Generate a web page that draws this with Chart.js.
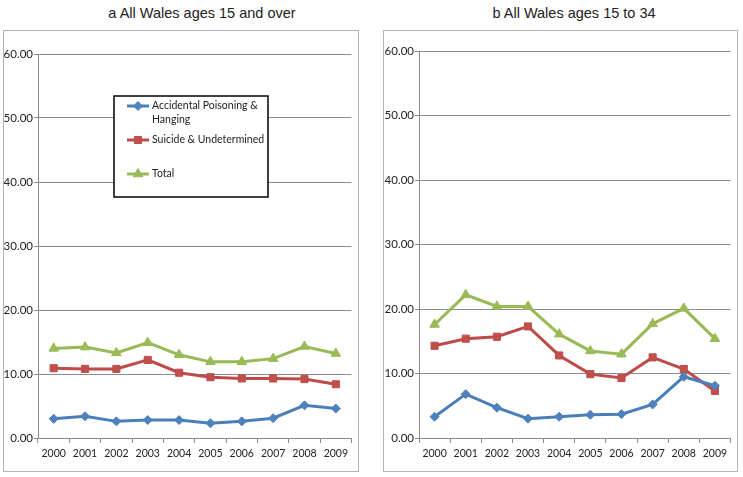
<!DOCTYPE html>
<html>
<head>
<meta charset="utf-8">
<script src="https://cdn.jsdelivr.net/npm/chart.js@4.4.0/dist/chart.umd.min.js"></script>
<style>
body{margin:0;background:#fff;width:743px;height:477px;position:relative;overflow:hidden;font-family:"Liberation Sans",Arial,sans-serif}
.title{position:absolute;top:4px;font-size:14.5px;line-height:18px;color:#222;text-align:center}
.panel{position:absolute;top:30px;height:442px;border:1px solid #b4b4b4;box-sizing:border-box}
.panel canvas{position:absolute;left:0;top:0}
</style>
</head>
<body>
<div class="title" style="left:102px;width:200px">a All Wales ages 15 and over</div>
<div class="title" style="left:474px;width:200px">b All Wales ages 15 to 34</div>
<div class="panel" style="left:3px;width:356px"><canvas id="chartA" width="354" height="440"></canvas></div>
<div class="panel" style="left:383px;width:355px"><canvas id="chartB" width="353" height="440"></canvas></div>
<script>
const years = ['2000', '2001', '2002', '2003', '2004', '2005', '2006', '2007', '2008', '2009'],
      seriesNames = ['Accidental Poisoning & Hanging', 'Suicide & Undetermined', 'Total'];

// a: ages 15 and over
const accidentalAll = [3.0, 3.4, 2.6, 2.8, 2.8, 2.3, 2.6, 3.1, 5.1, 4.6],
      suicideAll = [10.9, 10.8, 10.8, 12.2, 10.2, 9.5, 9.3, 9.3, 9.2, 8.4],
      totalAll = [14.0, 14.2, 13.3, 14.9, 13.0, 11.9, 11.9, 12.4, 14.3, 13.2];

// b: ages 15 to 34
const accidentalYoung = [3.3, 6.8, 4.7, 3.0, 3.3, 3.6, 3.7, 5.2, 9.5, 8.1],
      suicideYoung = [14.3, 15.4, 15.7, 17.3, 12.8, 9.9, 9.3, 12.5, 10.7, 7.3],
      totalYoung = [17.6, 22.2, 20.4, 20.4, 16.1, 13.5, 13.0, 17.7, 20.1, 15.4];

const yMin = 0, yMax = 60, yStep = 10;

const styles = [
    {line: '#4A7EBB', fill: '#4F81BD', shape: 'rectRot', r: 4.5},
    {line: '#BE4B48', fill: '#C0504D', shape: 'rect', r: 5},
    {line: '#98B954', fill: '#9BBB59', shape: 'triangle', r: 5.5}
];

const gridGrey = '#8c8c8c';

// legend drawn as a white box inside the plot, like the excel original
const boxLegend = {
    id: 'boxLegend',
    afterDatasetsDraw(chart, args, opts) {
        if (!opts.show) return;
        const ctx = chart.ctx,
              area = chart.chartArea,
              x = area.left + 76, y = area.top + 42, w = 154, h = 101;
        ctx.save();
        ctx.fillStyle = '#fff';
        ctx.fillRect(x, y, w, h);
        ctx.strokeStyle = '#000';
        ctx.lineWidth = 1.5;
        ctx.strokeRect(x, y, w, h);
        ctx.font = '10.5px Lato';
        ctx.textBaseline = 'middle';
        chart.data.datasets.forEach((ds, i) => {
            const ly = y + 10 + i * 34;
            ctx.strokeStyle = ds.borderColor;
            ctx.lineWidth = 3;
            ctx.beginPath();
            ctx.moveTo(x + 13, ly);
            ctx.lineTo(x + 35, ly);
            ctx.stroke();
            ctx.fillStyle = ds.pointBackgroundColor;
            ctx.lineWidth = 1;
            Chart.helpers.drawPoint(ctx, {pointStyle: ds.pointStyle, radius: ds.pointRadius, rotation: 0, borderWidth: 1}, x + 24, ly);
            // wrap label
            const words = ds.label.split(' '), lines = [];
            let cur = '';
            words.forEach(wd => {
                const test = cur ? cur + ' ' + wd : wd;
                if (ctx.measureText(test).width > 120 && cur) { lines.push(cur); cur = wd; }
                else cur = test;
            });
            lines.push(cur);
            ctx.fillStyle = '#222';
            lines.forEach((ln, j) => ctx.fillText(ln, x + 38, ly + j * 13.5));
        });
        ctx.restore();
    }
};

function makeChart(id, values, pad, yWidth, withLegend) {
    const datasets = values.map((vals, i) => ({
        label: seriesNames[i],
        data: vals,
        borderColor: styles[i].line,
        backgroundColor: styles[i].fill,
        pointBackgroundColor: styles[i].fill,
        pointBorderColor: styles[i].line,
        pointBorderWidth: 1,
        pointStyle: styles[i].shape,
        pointRadius: styles[i].r,
        borderWidth: 3,
        tension: 0
    }));

    return new Chart(document.getElementById(id), {
        type: 'line',
        data: {labels: years, datasets: datasets},
        plugins: [boxLegend],
        options: {
            responsive: false,
            animation: false,
            layout: {padding: pad},
            plugins: {
                legend: {display: false},
                tooltip: {enabled: false},
                boxLegend: {show: withLegend}
            },
            scales: {
                x: {
                    offset: true,
                    grid: {offset: true, drawOnChartArea: false, color: gridGrey, tickLength: 5},
                    border: {color: gridGrey},
                    ticks: {color: '#222', font: {family: 'Lato', size: 10.5}, padding: 4, maxRotation: 0},
                    afterFit: s => { s.height = 33; }
                },
                y: {
                    min: yMin, max: yMax,
                    grid: {color: gridGrey, tickLength: 4},
                    border: {color: gridGrey},
                    ticks: {
                        stepSize: yStep,
                        color: '#222',
                        font: {family: 'Lato', size: 11.5},
                        padding: 1,
                        callback: v => v.toFixed(2)
                    },
                    afterFit: s => { s.width = yWidth; }
                }
            }
        }
    });
}

makeChart('chartA', [accidentalAll, suicideAll, totalAll], {top: 23, right: 6, left: 0, bottom: 0}, 34, true);
makeChart('chartB', [accidentalYoung, suicideYoung, totalYoung], {top: 20, right: 4, left: 0, bottom: 0}, 35, false);
</script>
</body>
</html>
